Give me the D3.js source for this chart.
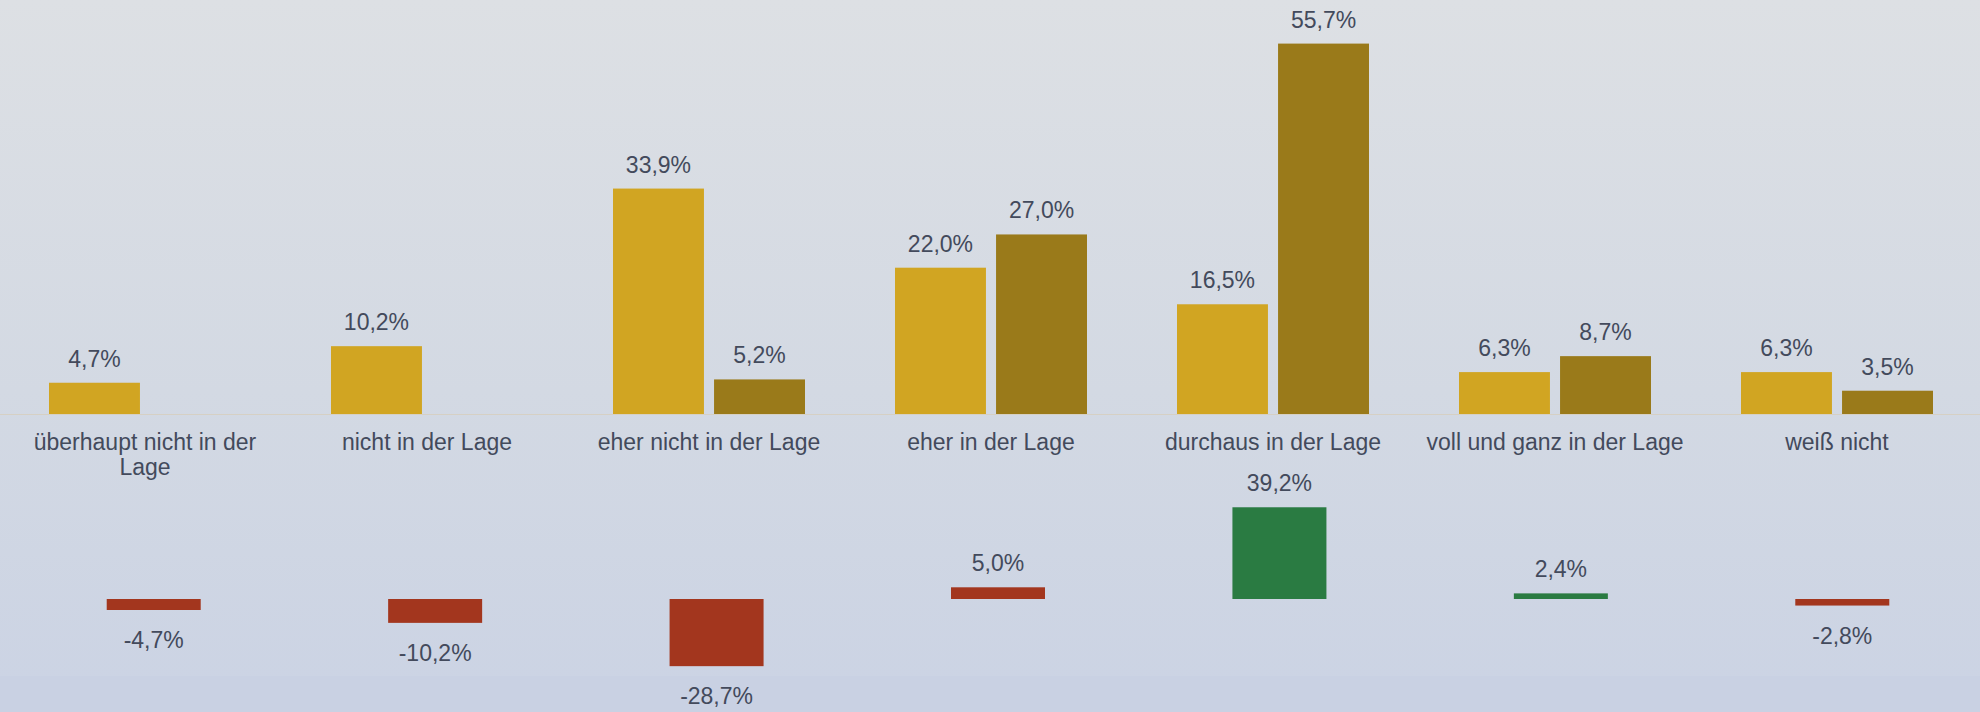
<!DOCTYPE html>
<meta charset="utf-8">
<script src="https://d3js.org/d3.v7.min.js"></script>
<style>
  body { margin: 0; }
  svg { display: block; font-family: "Liberation Sans", Arial, sans-serif; }
</style>
<div id="chart"></div>
<script>
  // data
  var categories = ["überhaupt nicht in der\nLage", "nicht in der Lage", "eher nicht in der Lage",
    "eher in der Lage", "durchaus in der Lage", "voll und ganz in der Lage", "weiß nicht"]
  var seriesA = [4.7, 10.2, 33.9, 22.0, 16.5, 6.3, 6.3]
  var seriesB = [0, 0, 5.2, 27.0, 55.7, 8.7, 3.5]
  var diffs = [-4.7, -10.2, -28.7, 5.0, 39.2, 2.4, -2.8]
  // categories whose difference bar is drawn green
  var greenCats = ["durchaus in der Lage", "voll und ganz in der Lage"]

  var width = 1980, height = 712
  var fmt = function (v) { return v.toFixed(1).replace(".", ",") + "%" }
  var fontSize = 23

  var svg = d3.select("#chart").append("svg")
    .attr("width", width).attr("height", height)

  // background gradient
  var grad = svg.append("defs").append("linearGradient")
    .attr("id", "bg").attr("x1", 0).attr("y1", 0).attr("x2", 0).attr("y2", 1)
  grad.append("stop").attr("offset", "0%").attr("stop-color", "#dde0e4")
  grad.append("stop").attr("offset", "55%").attr("stop-color", "#d3d9e3")
  grad.append("stop").attr("offset", "100%").attr("stop-color", "#cbd3e4")
  svg.append("rect").attr("width", width).attr("height", height).attr("fill", "url(#bg)")
  svg.append("rect").attr("y", 676).attr("width", width).attr("height", height - 676)
    .attr("fill", "#c9d1e3")

  // top grouped chart
  var x0 = d3.scaleBand().domain(categories).range([4, 1978])
  var bw = x0.bandwidth()
  var x1 = d3.scaleBand().domain([0, 1]).range([bw / 2 - 96, bw / 2 + 96]).paddingInner(0.1)
  var y = d3.scaleLinear().domain([0, 60]).range([414, 15])

  svg.append("line").attr("x1", 0).attr("x2", width).attr("y1", 414.5).attr("y2", 414.5)
    .attr("stroke", "#d6d0c4").attr("stroke-width", 1)

  var rows = categories.map(function (c, i) { return { cat: c, vals: [seriesA[i], seriesB[i]] } })
  var colors = ["#d1a522", "#9a7a1a"]

  var groups = svg.selectAll("g.grp").data(rows).enter().append("g")
    .attr("class", "grp")
    .attr("transform", function (d) { return "translate(" + x0(d.cat) + ",0)" })

  groups.selectAll("rect").data(function (d) { return d.vals.map(function (v, k) { return { k: k, v: v } }) })
    .enter().append("rect")
    .attr("x", function (d) { return x1(d.k) })
    .attr("width", x1.bandwidth())
    .attr("y", function (d) { return y(d.v) })
    .attr("height", function (d) { return y(0) - y(d.v) })
    .attr("fill", function (d) { return colors[d.k] })

  groups.selectAll("text.val").data(function (d) { return d.vals.map(function (v, k) { return { k: k, v: v } }).filter(function (e) { return e.v > 0 }) })
    .enter().append("text")
    .attr("class", "val")
    .attr("x", function (d) { return x1(d.k) + x1.bandwidth() / 2 })
    .attr("y", function (d) { return y(d.v) - 16 })
    .attr("text-anchor", "middle")
    .attr("font-size", fontSize)
    .attr("fill", "#434a5c")
    .text(function (d) { return fmt(d.v) })

  // category labels
  groups.append("text")
    .attr("text-anchor", "middle")
    .attr("font-size", fontSize)
    .attr("fill", "#434a5c")
    .selectAll("tspan").data(function (d) { return d.cat.split("\n") })
    .enter().append("tspan")
    .attr("x", bw / 2)
    .attr("y", function (d, i) { return 450 + i * 25 })
    .text(function (d) { return d })

  // bottom difference chart
  var xd = d3.scaleBand().domain(categories).range([13, 1983]).paddingInner(0.666).paddingOuter(0.333)
  var yd = d3.scaleLinear().domain([-30, 40]).range([669.2, 505.4])

  svg.selectAll("rect.diff").data(diffs).enter().append("rect")
    .attr("class", "diff")
    .attr("x", function (d, i) { return xd(categories[i]) })
    .attr("width", xd.bandwidth())
    .attr("y", function (d) { return yd(Math.max(0, d)) })
    .attr("height", function (d) { return Math.abs(yd(d) - yd(0)) })
    .attr("fill", function (d, i) { return greenCats.indexOf(categories[i]) >= 0 ? "#2a7b42" : "#a3361e" })

  svg.selectAll("text.diff").data(diffs).enter().append("text")
    .attr("class", "diff")
    .attr("x", function (d, i) { return xd(categories[i]) + xd.bandwidth() / 2 })
    .attr("y", function (d) { return d >= 0 ? yd(d) - 16 : yd(d) + 38 })
    .attr("text-anchor", "middle")
    .attr("font-size", fontSize)
    .attr("fill", "#434a5c")
    .text(function (d) { return fmt(d) })
</script>
